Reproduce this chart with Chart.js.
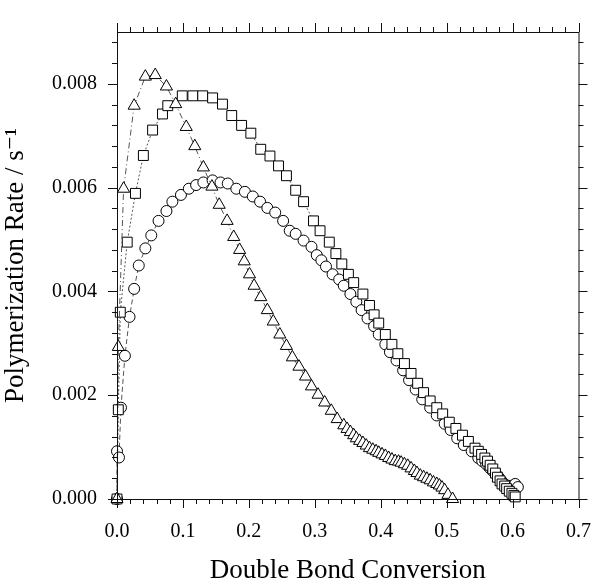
<!DOCTYPE html>
<html>
<head>
<meta charset="utf-8">
<script src="https://cdn.jsdelivr.net/npm/chart.js@4.4.1/dist/chart.umd.min.js"></script>
<style>
html,body{margin:0;padding:0;background:#fff;}
</style>
</head>
<body>
<canvas id="c" width="612" height="584"></canvas>
<script>
// Valeurs (conversion, vitesse en s-1)
const triX = [0.000,0.002,0.010,0.026,0.043,0.058,0.075,0.089,0.105,0.118,
  0.131,0.144,0.155,0.167,0.177,0.186,0.193,0.201,0.208,0.218,
  0.228,0.237,0.247,0.257,0.266,0.276,0.286,0.295,0.305,0.315,
  0.325,0.334,0.344,0.349,0.354,0.359,0.363,0.368,0.373,0.378,
  0.383,0.388,0.393,0.397,0.402,0.407,0.412,0.417,0.422,0.427,
  0.431,0.436,0.441,0.446,0.451,0.455,0.460,0.465,0.470,0.475,
  0.480,0.485,0.489,0.493,0.497,0.502,0.509];
const triY = [0,0.00293,0.00598,0.00758,0.00814,0.00817,0.00795,0.00761,0.00717,0.00680,
  0.00639,0.00602,0.00567,0.00536,0.00505,0.00480,0.00458,0.00433,0.00411,0.00389,
  0.00364,0.00342,0.00317,0.00295,0.00273,0.00255,0.00236,0.00217,0.00201,0.00186,
  0.00170,0.00154,0.00142,0.00135,0.00129,0.00123,0.00117,0.00112,0.00108,0.00103,
  0.00098,0.00095,0.00092,0.00089,0.00086,0.00083,0.00079,0.00076,0.00073,0.00072,
  0.00070,0.00067,0.00064,0.00059,0.00054,0.00050,0.00045,0.00042,0.00039,0.00036,
  0.00032,0.00029,0.00026,0.00022,0.00017,0.00008,0];

const sqX = [0.000,0.002,0.005,0.0155,0.028,0.040,0.054,0.069,0.077,0.099,
  0.115,0.130,0.145,0.160,0.174,0.189,0.203,0.218,0.232,0.245,
  0.257,0.271,0.283,0.298,0.308,0.322,0.332,0.341,0.351,0.359,
  0.373,0.383,0.390,0.397,0.407,0.417,0.426,0.436,0.446,0.456,
  0.465,0.475,0.485,0.494,0.504,0.514,0.524,0.533,0.543,0.548,
  0.553,0.558,0.562,0.566,0.570,0.574,0.577,0.581,0.584,0.588,
  0.591,0.595,0.599,0.602,0.604];
const sqY = [0,0.00172,0.00360,0.00495,0.00589,0.00662,0.00711,0.00742,0.00758,0.00777,
  0.00777,0.00777,0.00773,0.00761,0.00739,0.00720,0.00705,0.00674,0.00661,0.00642,
  0.00623,0.00595,0.00573,0.00536,0.00517,0.00495,0.00473,0.00453,0.00433,0.00417,
  0.00395,0.00373,0.00355,0.00339,0.00317,0.00298,0.00280,0.00261,0.00242,0.00223,
  0.00205,0.00189,0.00176,0.00164,0.00148,0.00136,0.00123,0.00111,0.00098,0.00092,
  0.00086,0.00079,0.00073,0.00065,0.00058,0.00050,0.00042,0.00035,0.00029,0.00025,
  0.00020,0.00015,0.00011,0.00007,0.00004];

const circX = [0.000,0.000,0.003,0.006,0.012,0.019,0.026,0.033,
  0.043,0.052,0.063,0.075,0.084,0.097,0.109,0.120,0.131,0.145,
  0.157,0.168,0.181,0.194,0.206,0.217,0.228,0.240,0.252,0.262,
  0.271,0.283,0.295,0.303,0.310,0.317,0.327,0.337,0.344,0.354,
  0.363,0.371,0.380,0.390,0.397,0.407,0.414,0.424,0.434,0.443,
  0.453,0.463,0.475,0.485,0.497,0.506,0.516,0.526,0.538,0.548,
  0.554,0.560,0.565,0.570,0.575,0.579,0.583,0.587,0.592,0.596,
  0.600,0.604,0.608];
const circY = [0,0.00092,0.00080,0.00176,0.00276,0.00351,0.00405,0.00450,
  0.00483,0.00508,0.00536,0.00555,0.00573,0.00586,0.00598,0.00605,0.00610,0.00614,
  0.00610,0.00608,0.00598,0.00592,0.00583,0.00573,0.00561,0.00552,0.00536,0.00517,
  0.00511,0.00498,0.00486,0.00470,0.00460,0.00448,0.00433,0.00423,0.00411,0.00395,
  0.00380,0.00364,0.00348,0.00333,0.00317,0.00298,0.00283,0.00267,0.00248,0.00229,
  0.00211,0.00192,0.00176,0.00161,0.00145,0.00133,0.00117,0.00104,0.00092,0.00079,
  0.00073,0.00067,0.00060,0.00054,0.00048,0.00042,0.00035,0.00029,0.00026,0.00023,
  0.00026,0.00029,0.00023];

const xTicks = [0, 0.1, 0.2, 0.3, 0.4, 0.5, 0.6, 0.7];
const yTicks = [0, 0.002, 0.004, 0.006, 0.008];
const X_MINOR = 0.02, Y_MINOR = 0.0004;

const SERIF = "'Liberation Serif', 'DejaVu Serif', serif";
const pts = (xs, ys) => xs.map((v, i) => ({x: v, y: ys[i]}));

// cadre + graduations extérieures sur les 4 côtés
const frameTicks = {
  id: 'frameTicks',
  afterDatasetsDraw(chart) {
    const {ctx, chartArea: a, scales: {x, y}} = chart;
    ctx.save();
    ctx.strokeStyle = '#111';
    ctx.lineWidth = 1;
    ctx.strokeRect(a.left + 0.5, a.top + 0.5, a.right - a.left, a.bottom - a.top);
    ctx.beginPath();
    const nx = Math.round(x.max / X_MINOR);
    for (let i = 0; i <= nx; i++) {
      const px = Math.round(x.getPixelForValue(i * X_MINOR)) + 0.5;
      const len = i % 5 === 0 ? 9 : 5;
      ctx.moveTo(px, a.bottom); ctx.lineTo(px, a.bottom + len);
      ctx.moveTo(px, a.top); ctx.lineTo(px, a.top - len);
    }
    const ny = Math.round(y.max / Y_MINOR);
    for (let i = 0; i <= ny; i++) {
      const py = Math.round(y.getPixelForValue(i * Y_MINOR)) + 0.5;
      const len = i % 5 === 0 ? 9 : 5;
      ctx.moveTo(a.left, py); ctx.lineTo(a.left - len, py);
      ctx.moveTo(a.right, py); ctx.lineTo(a.right + len, py);
    }
    ctx.stroke();
    ctx.restore();
  }
};

const common = {
  showLine: true,
  borderColor: '#555',
  borderWidth: 1,
  pointBorderColor: '#000',
  pointBackgroundColor: '#fff',
  pointBorderWidth: 1,
  clip: false
};

new Chart(document.getElementById('c'), {
  type: 'scatter',
  data: {
    datasets: [
      {...common, data: pts(triX, triY), pointStyle: 'triangle', pointRadius: 7, borderDash: [6, 3, 1, 3]},
      {...common, data: pts(sqX, sqY), pointStyle: 'rect', pointRadius: 7, borderDash: [2, 2]},
      {...common, data: pts(circX, circY), pointStyle: 'circle', pointRadius: 5.5, borderDash: [5, 3]}
    ]
  },
  options: {
    responsive: false,
    animation: false,
    layout: {padding: {top: 21, right: 14, left: 0, bottom: 0}},
    plugins: {legend: {display: false}, tooltip: {enabled: false}},
    scales: {
      x: {
        type: 'linear', min: 0, max: 0.7,
        afterBuildTicks: s => { s.ticks = xTicks.map(v => ({value: v})); },
        afterFit: s => { s.height = 85; },
        grid: {display: false, drawTicks: false},
        border: {display: false},
        ticks: {color: '#000', padding: 21, font: {family: SERIF, size: 20},
          callback: v => Number(v).toFixed(1)},
        title: {display: true, text: 'Double Bond Conversion', color: '#000',
          font: {family: SERIF, size: 27, lineHeight: 1.0}, padding: 0}
      },
      y: {
        type: 'linear', min: 0, max: 0.009,
        afterBuildTicks: s => { s.ticks = yTicks.map(v => ({value: v})); },
        afterFit: s => { s.width = 117; },
        grid: {display: false, drawTicks: false},
        border: {display: false},
        ticks: {color: '#000', padding: 20, font: {family: SERIF, size: 20},
          callback: v => Number(v).toFixed(3)},
        title: {display: true, text: 'Polymerization Rate / s\u207B\u00B9', color: '#000',
          font: {family: SERIF, size: 27, lineHeight: 1.15}, padding: 0}
      }
    }
  },
  plugins: [frameTicks]
});
</script>
</body>
</html>
